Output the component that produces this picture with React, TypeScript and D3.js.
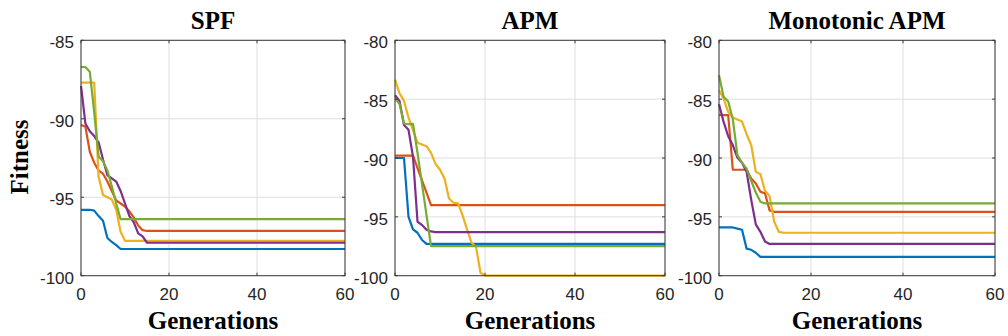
import React from "react";
import * as d3 from "d3";

// Fitness per generation (index = generation) until convergence; the last value holds to generation 60.
const GEN_MAX = 60;
const X_TICKS = [0, 20, 40, 60];
const SERIES_COLORS = ["#0072BD", "#D95319", "#EDB120", "#7E2F8E", "#77AC30"];

// SPF
const spfBlue = [-95.8, -95.8, -95.8, -95.85, -96.2, -96.5, -97.6, -97.85, -98.05, -98.3];
const spfOrange = [-90.4, -90.5, -92.1, -92.8, -93.3, -93.5, -94.0, -94.6, -95.2, -95.4, -95.6, -95.9, -96.3, -96.8, -97.1, -97.15];
const spfYellow = [-87.7, -87.7, -87.7, -87.7, -93.7, -94.85, -95.0, -95.15, -95.8, -97.2, -97.78];
const spfPurple = [-87.9, -90.3, -90.8, -91.1, -91.5, -92.6, -93.6, -93.8, -94.0, -94.6, -95.4, -96.2, -96.6, -97.3, -97.5, -97.9];
const spfGreen = [-86.7, -86.7, -87.0, -89.6, -92.4, -92.7, -93.3, -94.3, -95.4, -96.4];

// APM
const apmBlue = [-90.0, -90.0, -90.0, -95.0, -96.07, -96.35, -96.97, -97.3];
const apmOrange = [-89.8, -89.8, -89.8, -89.8, -89.8, -90.85, -91.9, -92.95, -94.0];
const apmYellow = [-83.34, -84.5, -85.15, -86.56, -87.64, -88.7, -88.85, -89.0, -89.56, -90.5, -91.0, -91.74, -93.44, -93.8, -93.86, -94.85, -96.07, -97.2, -97.54, -99.75, -100.0];
const apmPurple = [-84.67, -85.15, -87.2, -87.6, -89.9, -95.4, -95.7, -96.1, -96.24, -96.3];
const apmGreen = [-84.95, -85.4, -87.07, -87.13, -87.1, -89.56, -92.2, -94.85, -97.48];

// Monotonic APM
const mapmBlue = [-95.9, -95.9, -95.9, -95.9, -96.0, -96.1, -97.7, -97.8, -98.05, -98.4];
const mapmOrange = [-86.36, -86.36, -86.36, -91.0, -91.0, -91.0, -91.0, -91.74, -92.16, -92.87, -93.0, -94.45, -94.57];
const mapmYellow = [-84.24, -84.95, -86.08, -86.56, -86.73, -86.9, -87.98, -88.9, -91.17, -91.37, -92.79, -93.24, -95.42, -96.27, -96.35];
const mapmPurple = [-85.43, -86.93, -88.15, -88.9, -89.96, -90.4, -91.17, -93.55, -95.64, -96.27, -97.1, -97.3];
const mapmGreen = [-82.97, -84.8, -85.2, -86.7, -89.76, -90.4, -90.9, -91.94, -92.93, -93.72, -93.86];

const spfSeries = [spfBlue, spfOrange, spfYellow, spfPurple, spfGreen];
const apmSeries = [apmBlue, apmOrange, apmYellow, apmPurple, apmGreen];
const mapmSeries = [mapmBlue, mapmOrange, mapmYellow, mapmPurple, mapmGreen];

const spfYTicks = [-85, -90, -95, -100];
const apmYTicks = [-80, -85, -90, -95, -100];

const PANELS = [
  { title: "SPF", series: spfSeries, yDomain: [-100, -85], yTicks: spfYTicks, x0: 81, x1: 345 },
  { title: "APM", series: apmSeries, yDomain: [-100, -80], yTicks: apmYTicks, x0: 395, x1: 665 },
  { title: "Monotonic APM", series: mapmSeries, yDomain: [-100, -80], yTicks: apmYTicks, x0: 719, x1: 995 },
];

const TOP = 40.3;
const BOTTOM = 275.7;
const SERIF = "'Liberation Serif', 'Times New Roman', serif";
const SANS = "'Liberation Sans', Arial, Helvetica, sans-serif";

function Panel({ p }: { p: (typeof PANELS)[number] }) {
  const x = d3.scaleLinear().domain([0, GEN_MAX]).range([p.x0, p.x1]);
  const y = d3.scaleLinear().domain(p.yDomain).range([BOTTOM, TOP]);
  const line = d3
    .line<[number, number]>()
    .x((d) => x(d[0]))
    .y((d) => y(d[1]));
  const tickLen = 3;
  return (
    <g>
      {/* grid */}
      {X_TICKS.map((t) => (
        <line key={"gx" + t} x1={x(t)} x2={x(t)} y1={TOP} y2={BOTTOM} stroke="#dedede" strokeWidth={1} />
      ))}
      {p.yTicks.map((t) => (
        <line key={"gy" + t} x1={p.x0} x2={p.x1} y1={y(t)} y2={y(t)} stroke="#dedede" strokeWidth={1} />
      ))}
      {/* series */}
      {p.series.map((vals, i) => {
        const pts: [number, number][] = vals.map((v, g) => [g, v] as [number, number]);
        pts.push([GEN_MAX, vals[vals.length - 1]]);
        return (
          <path
            key={"s" + i}
            d={line(pts) || ""}
            fill="none"
            stroke={SERIES_COLORS[i]}
            strokeWidth={2.2}
            strokeLinejoin="round"
          />
        );
      })}
      {/* box */}
      <rect x={p.x0} y={TOP} width={p.x1 - p.x0} height={BOTTOM - TOP} fill="none" stroke="#3a3a3a" strokeWidth={1} />
      {/* ticks */}
      {X_TICKS.map((t) => (
        <g key={"tx" + t}>
          <line x1={x(t)} x2={x(t)} y1={BOTTOM} y2={BOTTOM - tickLen} stroke="#3a3a3a" />
          <line x1={x(t)} x2={x(t)} y1={TOP} y2={TOP + tickLen} stroke="#3a3a3a" />
          <text x={x(t)} y={300} textAnchor="middle" fontFamily={SANS} fontSize={17} fill="#262626">
            {t}
          </text>
        </g>
      ))}
      {p.yTicks.map((t) => (
        <g key={"ty" + t}>
          <line x1={p.x0} x2={p.x0 + tickLen} y1={y(t)} y2={y(t)} stroke="#3a3a3a" />
          <line x1={p.x1} x2={p.x1 - tickLen} y1={y(t)} y2={y(t)} stroke="#3a3a3a" />
          <text x={p.x0 - 7} y={y(t) + 8} textAnchor="end" fontFamily={SANS} fontSize={17} fill="#262626">
            {t}
          </text>
        </g>
      ))}
      {/* title */}
      <text x={(p.x0 + p.x1) / 2} y={29} textAnchor="middle" fontFamily={SERIF} fontWeight="bold" fontSize={25} fill="#000">
        {p.title}
      </text>
      {/* x label */}
      <text x={(p.x0 + p.x1) / 2} y={329} textAnchor="middle" fontFamily={SERIF} fontWeight="bold" fontSize={25} fill="#000">
        Generations
      </text>
    </g>
  );
}

export default function App() {
  return (
    <svg
      width={1008}
      height={336}
      style={{ position: "absolute", left: 0, top: 0, background: "#fff" }}
    >
      <rect x={0} y={0} width={1008} height={336} fill="#fff" />
      {PANELS.map((p) => (
        <Panel key={p.title} p={p} />
      ))}
      <text
        transform="translate(28,157) rotate(-90)"
        textAnchor="middle"
        fontFamily={SERIF}
        fontWeight="bold"
        fontSize={25}
        fill="#000"
      >
        Fitness
      </text>
    </svg>
  );
}
